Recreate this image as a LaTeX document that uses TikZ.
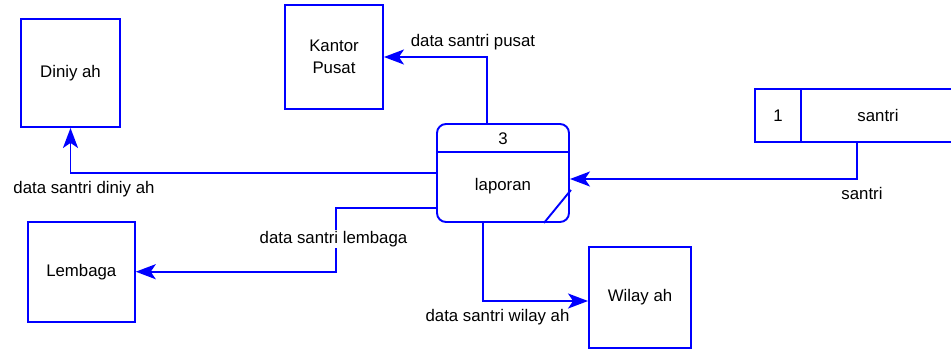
\documentclass[tikz,border=0pt]{standalone}
\usepackage{fontspec}
\setmainfont{Liberation Sans}
\usetikzlibrary{arrows.meta}

\begin{document}
\begin{tikzpicture}[x=1pt, y=-1pt, >={Stealth[length=20pt, width=15pt, inset=5pt]},
    line width=1.9pt,
    font=\fontsize{16.8}{22}\selectfont,
    entitas/.style={rectangle, draw=blue, align=center},
    proses/.style={rectangle, draw=blue, rounded corners=9pt, minimum width=132, minimum height=98},
    gudang/.style={rectangle, minimum width=196, minimum height=51},
    alur/.style={->, blue},
    ket/.style={inner sep=1pt}]

    \useasboundingbox (0,0) rectangle (951,349);

    \node[entitas, minimum width=99, minimum height=108] (diniyah) at (70.5,73) {Diniy ah};
    \node[entitas, minimum width=98, minimum height=104] (kantor) at (334,57) {Kantor\\Pusat};
    \node[entitas, minimum width=107, minimum height=100] (lembaga) at (81.3,271.7) {Lembaga};
    \node[entitas, minimum width=102, minimum height=101] (wilayah) at (640,297.5) {Wilay ah};

    \node[proses] (laporan) at (503,173) {};
    \draw[blue] ([yshift=-29pt]laporan.north west) -- ([yshift=-29pt]laporan.north east);
    \draw[blue] ([xshift=-26pt]laporan.south east) -- ([xshift=1pt, yshift=-17pt]laporan.east);
    \node (no3) at (503,139) {3};
    \node (nama3) at (503,186) {laporan};

    \node[gudang] (santri) at (853.7,115.4) {};
    \draw[blue] (santri.north east) -- (santri.north west) -- (santri.south west) -- (santri.south east);
    \node[minimum width=44.6, minimum height=51] (no1) at (778,115.4) {1};
    \draw[blue] (no1.north east) -- (no1.south east);
    \node (nama1) at (878,115.4) {santri};

    \draw[alur] ([xshift=3pt]santri.south) |- ([yshift=-6pt]laporan.east);
    \draw[alur] ([xshift=-16.3pt]laporan.north) |- (kantor.east);
    \draw[alur] (laporan.west) -| (diniyah.south);
    \draw[alur] ([yshift=-35.3pt]laporan.west) -| (336,240) |- (lembaga.east);
    \draw[alur] ([xshift=-20.3pt]laporan.south) |- ([yshift=-3.5pt]wilayah.west);

    \node[ket] at (862,193) {santri};
    \node[ket] at (473,42.5) {data santri pusat};
    \node[ket] at (84,189) {data santri diniy ah};
    \node[ket, fill=white] at (333.5,239.3) {data santri lembaga};
    \node[ket] at (497.5,316.7) {data santri wilay ah};
\end{tikzpicture}
\end{document}
